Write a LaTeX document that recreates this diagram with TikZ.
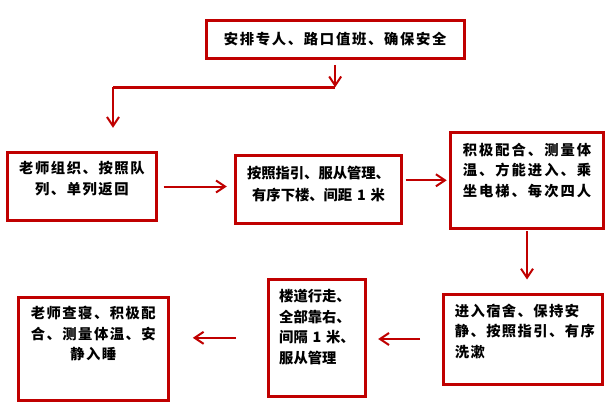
\documentclass[tikz,border=0pt]{standalone}
\usepackage{fontspec}
\newfontfamily\cjk{Noto Sans CJK SC}
\usetikzlibrary{arrows.meta}
\definecolor{boxred}{RGB}{192,0,0}
\tikzset{
  flowbox/.style={draw=boxred, line width=3pt, inner sep=0pt, anchor=north west,
    font=\cjk\bfseries\fontsize{14.3}{20.5}\selectfont},
  spaced/.style={font=\cjk\bfseries\fontsize{14.3}{20.5}\selectfont\addfontfeature{LetterSpace=#1}},
  flowarrow/.style={draw=boxred, line width=2pt, -{Straight Barb[length=9pt,width=12pt]}}
}
\begin{document}
\begin{tikzpicture}[x=1pt,y=-1pt]
  \fill[white] (0,0) rectangle (609,406);
  \useasboundingbox (0,0) rectangle (609,406);
  \node[flowbox, spaced=12, text width=257.7pt, text height=23.8pt, text depth=14.2pt, align=center] (duty) at (204.8,18.8) {安排专人、路口值班、确保安全};
  \node[flowbox, spaced=11, text width=149.7pt, text height=21.5pt, text depth=46.9pt, align=center] (lineup) at (5.5,150.8) {老师组织、按照队\\列、单列返回};
  \node[flowbox, text width=166.4pt, text height=23.2pt, text depth=44.8pt, align=center] (downstairs) at (233.8,153.8) {按照指引、服从管理、\\[1pt]有序下楼、间距~1~米};
  \node[flowbox, spaced=14, text width=152.6pt, text height=22.8pt, text depth=73.2pt, align=center] (elevator) at (449.2,130.8) {积极配合、测量体\\温、方能进入、乘\\坐电梯、每次四人};
  \node[flowbox, spaced=10, align=left, inner xsep=11.8pt, text width=136.1pt, text height=22.1pt, text depth=67.9pt] (dorm) at (441.5,292.5) {进入宿舍、保持安\\静、按照指引、有序\\洗漱};
  \node[flowbox, align=left, inner xsep=11.2pt, text width=75.3pt, text height=22.1pt, text depth=94.2pt] (corridor) at (266.5,278.2) {楼道行走、\\全部靠右、\\间隔~1~米、\\服从管理};
  \node[flowbox, spaced=10.5, text width=150pt, text height=21.8pt, text depth=81.9pt, align=center] (bedcheck) at (16.8,295.5) {老师查寝、积极配\\合、测量体温、安\\静入睡};
  \coordinate (bendR) at (duty.south |- 0,87.3);
  \coordinate (bendL) at (113,87.3);
  \draw[flowarrow, shorten <=5pt] (duty.south) -- (bendR);
  \draw[boxred, line width=3pt] (bendR) -- (bendL);
  \draw[flowarrow, shorten >=23pt] (bendL) -- (bendL |- lineup.north);
  \draw[flowarrow, shorten <=5.5pt, shorten >=7pt] (lineup.east) -- (lineup.east -| downstairs.west);
  \draw[flowarrow, shorten <=2.5pt, shorten >=2.5pt] (downstairs.east |- elevator.west) -- (elevator.west);
  \draw[flowarrow, shorten <=1.5pt, shorten >=13pt] (elevator.south) -- (elevator.south |- dorm.north);
  \draw[flowarrow, shorten <=21.5pt, shorten >=11pt] (dorm.west) -- (dorm.west -| corridor.east);
  \draw[flowarrow, shorten <=30.5pt, shorten >=23pt] (corridor.west) -- (corridor.west -| bedcheck.east);
\end{tikzpicture}
\end{document}
